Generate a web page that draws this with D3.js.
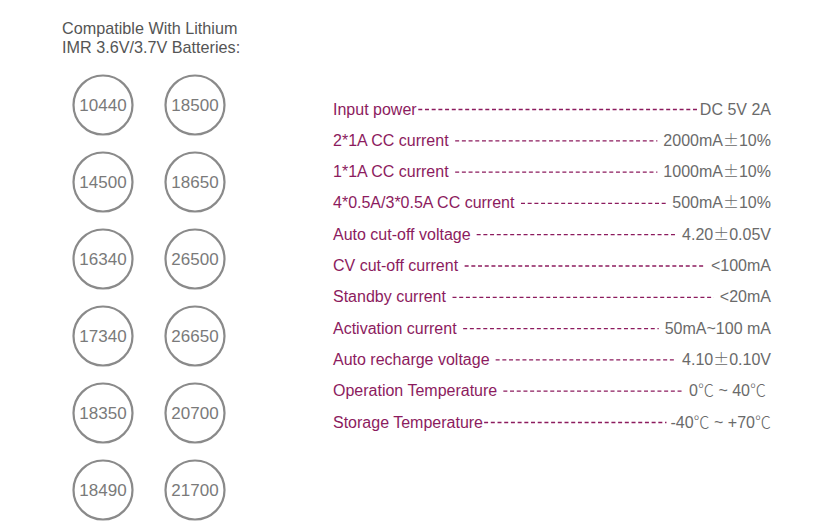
<!DOCTYPE html>
<html>
<head>
<meta charset="utf-8">
<script src="https://cdn.jsdelivr.net/npm/d3@7"></script>
<style>
  body { margin: 0; background: #fff; }
  text { font-family: "Liberation Sans", Arial, sans-serif; }
</style>
</head>
<body>
<script>
// battery sizes, two columns
const batteryLeft = ["10440", "14500", "16340", "17340", "18350", "18490"];
const batteryRight = ["18500", "18650", "26500", "26650", "20700", "21700"];
const titleLines = ["Compatible With Lithium", "IMR 3.6V/3.7V Batteries:"];

// spec table
const specNames = ["Input power", "2*1A CC current", "1*1A CC current", "4*0.5A/3*0.5A CC current",
  "Auto cut-off voltage", "CV cut-off current", "Standby current", "Activation current",
  "Auto recharge voltage", "Operation Temperature", "Storage Temperature"];
const specValues = ["DC 5V 2A", "2000mA\u00B110%", "1000mA\u00B110%", "500mA\u00B110%",
  "4.20\u00B10.05V", "<100mA", "<20mA", "50mA~100 mA",
  "4.10\u00B10.10V", "0\u2103 ~ 40\u2103", "-40\u2103 ~ +70\u2103"];

const W = 831, H = 530;
const purple = "#8c1b5e", grey = "#6a6a6a";

const svg = d3.select("body").append("svg").attr("width", W).attr("height", H);

// title
svg.selectAll("text.title").data(titleLines).join("text")
  .attr("class", "title")
  .attr("x", 62).attr("y", (d, i) => 34 + i * 19)
  .attr("font-size", 16.2).attr("fill", "#555")
  .text(d => d);

// circles
const rowY = d3.scalePoint().domain(d3.range(batteryLeft.length)).range([105, 490]);
const colX = d3.scalePoint().domain([0, 1]).range([103, 195]);
const cells = [];
batteryLeft.forEach((b, i) => cells.push({ name: b, col: 0, row: i }));
batteryRight.forEach((b, i) => cells.push({ name: b, col: 1, row: i }));

const cg = svg.selectAll("g.bat").data(cells).join("g")
  .attr("class", "bat")
  .attr("transform", d => "translate(" + colX(d.col) + "," + rowY(d.row) + ")");
cg.append("circle").attr("r", 29.5)
  .attr("fill", "none").attr("stroke", "#8a8a8a").attr("stroke-width", 2.2);
cg.append("text")
  .attr("text-anchor", "middle").attr("dy", "0.36em")
  .attr("font-family", "Roboto, sans-serif").attr("font-weight", 300)
  .attr("font-size", 17).attr("fill", "#7a7a7a")
  .text(d => d.name);

// spec rows
const specY = d3.scalePoint().domain(d3.range(specNames.length)).range([114.5, 427.5]);
const labelX = 333, valueX = 771;

const rows = svg.selectAll("g.spec").data(specNames).join("g")
  .attr("class", "spec")
  .attr("transform", (d, i) => "translate(0," + specY(i) + ")");

rows.append("text").attr("class", "lab")
  .attr("x", labelX).attr("font-size", 16).attr("fill", purple)
  .text(d => d);

// values: the ± and ℃ signs are full-width glyphs in the original
rows.append("text").attr("class", "val")
  .attr("x", (d, i) => i === 9 ? valueX - 5 : valueX)
  .attr("text-anchor", "end").attr("font-size", 16).attr("fill", grey)
  .each(function (d, i) {
    const t = d3.select(this);
    specValues[i].split(/([\u00B1\u2103])/).filter(s => s.length).forEach(s => {
      const sp = t.append("tspan").text(s);
      if (s === "\u00B1" || s === "\u2103") {
        sp.attr("font-family", "'Noto Sans CJK SC', sans-serif").attr("font-weight", 300);
      }
    });
  });

// dashed leaders between label and value
rows.each(function (d, i) {
  const g = d3.select(this);
  const lb = g.select(".lab").node().getBBox();
  const vb = g.select(".val").node().getBBox();
  const gapL = (i === 0 || i === 10) ? 1 : 6;
  const gapR = (i === 0) ? 1 : (i === 10 ? 4 : 6);
  g.append("line")
    .attr("x1", lb.x + lb.width + gapL).attr("x2", vb.x - gapR)
    .attr("y1", -5).attr("y2", -5)
    .attr("stroke", purple).attr("stroke-width", 1.3)
    .attr("stroke-dasharray", "4,2.7");
});
</script>
</body>
</html>
